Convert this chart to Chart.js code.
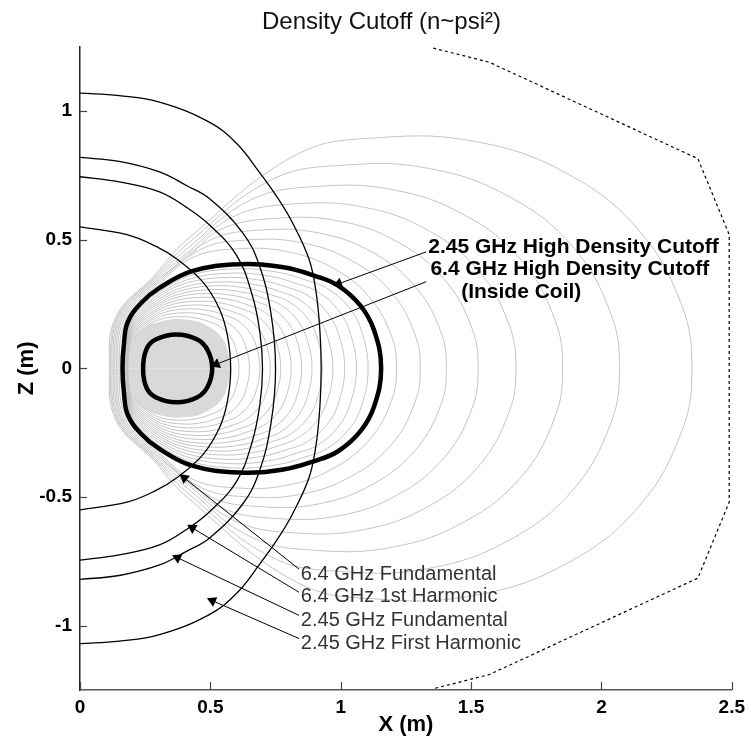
<!DOCTYPE html>
<html>
<head>
<meta charset="utf-8">
<script src="https://cdn.jsdelivr.net/npm/chart.js@4.4.1/dist/chart.umd.min.js"></script>
<style>
  html, body { margin: 0; padding: 0; background: #fff; }
  #wrap { width: 751px; height: 748px; }
</style>
</head>
<body>
<div id="wrap"><canvas id="cutoffChart" width="751" height="748"></canvas></div>
<script>
// axes
const xTicks = [0, 0.5, 1, 1.5, 2, 2.5];
const zTicks = [-1, -0.5, 0, 0.5, 1];

// flux surfaces inside the 2.45 GHz cutoff (upper half, inner edge round to outer midplane)
const innerFluxX = [
  [0.184, 0.193, 0.215, 0.245, 0.299, 0.376, 0.449, 0.501, 0.539, 0.578, 0.599, 0.610],
  [0.183, 0.192, 0.217, 0.250, 0.309, 0.394, 0.474, 0.530, 0.573, 0.615, 0.638, 0.650],
  [0.182, 0.192, 0.219, 0.255, 0.319, 0.411, 0.498, 0.559, 0.606, 0.651, 0.677, 0.690],
  [0.181, 0.192, 0.221, 0.260, 0.329, 0.429, 0.523, 0.589, 0.639, 0.688, 0.716, 0.730],
  [0.180, 0.192, 0.223, 0.264, 0.339, 0.446, 0.547, 0.618, 0.672, 0.725, 0.755, 0.770],
  [0.179, 0.192, 0.225, 0.269, 0.349, 0.464, 0.572, 0.648, 0.705, 0.762, 0.794, 0.810],
  [0.178, 0.191, 0.227, 0.274, 0.359, 0.481, 0.596, 0.677, 0.738, 0.799, 0.833, 0.850],
  [0.177, 0.191, 0.229, 0.279, 0.369, 0.499, 0.621, 0.707, 0.772, 0.836, 0.872, 0.890],
  [0.176, 0.191, 0.231, 0.284, 0.379, 0.516, 0.645, 0.736, 0.805, 0.873, 0.911, 0.930],
  [0.175, 0.191, 0.233, 0.289, 0.389, 0.534, 0.670, 0.766, 0.838, 0.910, 0.950, 0.970],
  [0.174, 0.191, 0.235, 0.294, 0.400, 0.553, 0.697, 0.799, 0.875, 0.951, 0.994, 1.015],
  [0.173, 0.191, 0.238, 0.300, 0.412, 0.573, 0.725, 0.832, 0.913, 0.993, 1.038, 1.060],
  [0.172, 0.191, 0.240, 0.305, 0.423, 0.593, 0.752, 0.865, 0.950, 1.034, 1.082, 1.105]
];
const innerFluxZ = [
  [0, 0.089, 0.127, 0.155, 0.188, 0.201, 0.195, 0.179, 0.161, 0.122, 0.072, 0],
  [0, 0.096, 0.136, 0.167, 0.202, 0.216, 0.210, 0.192, 0.173, 0.131, 0.077, 0],
  [0, 0.103, 0.146, 0.179, 0.216, 0.231, 0.224, 0.205, 0.185, 0.140, 0.083, 0],
  [0, 0.109, 0.155, 0.190, 0.230, 0.246, 0.239, 0.219, 0.197, 0.149, 0.088, 0],
  [0, 0.116, 0.164, 0.202, 0.244, 0.261, 0.253, 0.232, 0.209, 0.158, 0.093, 0],
  [0, 0.123, 0.174, 0.213, 0.258, 0.276, 0.268, 0.245, 0.221, 0.167, 0.099, 0],
  [0, 0.129, 0.183, 0.225, 0.272, 0.291, 0.282, 0.259, 0.233, 0.176, 0.104, 0],
  [0, 0.136, 0.193, 0.237, 0.285, 0.306, 0.297, 0.272, 0.245, 0.185, 0.110, 0],
  [0, 0.143, 0.202, 0.248, 0.299, 0.321, 0.311, 0.285, 0.257, 0.194, 0.115, 0],
  [0, 0.149, 0.212, 0.260, 0.313, 0.336, 0.326, 0.299, 0.269, 0.203, 0.120, 0],
  [0, 0.157, 0.222, 0.273, 0.329, 0.353, 0.342, 0.314, 0.283, 0.214, 0.126, 0],
  [0, 0.164, 0.233, 0.286, 0.345, 0.370, 0.359, 0.329, 0.297, 0.224, 0.132, 0],
  [0, 0.172, 0.244, 0.299, 0.361, 0.387, 0.375, 0.344, 0.310, 0.234, 0.139, 0]
];

// flux surfaces outside it: they hug the cutoff on the coil side and open out to the right
const outerFluxX = [
  [0.153, 0.174, 0.300, 0.430, 0.594, 0.789, 0.968, 1.110, 1.195, 1.214],
  [0.146, 0.168, 0.297, 0.462, 0.638, 0.848, 1.040, 1.193, 1.284, 1.305],
  [0.140, 0.162, 0.295, 0.497, 0.687, 0.913, 1.120, 1.284, 1.383, 1.405],
  [0.134, 0.157, 0.292, 0.418, 0.541, 0.747, 0.993, 1.217, 1.396, 1.503, 1.527],
  [0.128, 0.152, 0.289, 0.415, 0.592, 0.818, 1.087, 1.333, 1.528, 1.645, 1.672],
  [0.123, 0.147, 0.287, 0.412, 0.655, 0.905, 1.203, 1.475, 1.692, 1.821, 1.851],
  [0.118, 0.143, 0.285, 0.409, 0.732, 1.012, 1.345, 1.649, 1.891, 2.036, 2.069],
  [0.113, 0.138, 0.283, 0.406, 0.831, 1.148, 1.526, 1.871, 2.145, 2.309, 2.347]
];
const outerFluxZ = [
  [0, 0.184, 0.322, 0.430, 0.464, 0.455, 0.391, 0.277, 0.125, 0],
  [0, 0.188, 0.328, 0.462, 0.499, 0.489, 0.420, 0.298, 0.134, 0],
  [0, 0.190, 0.334, 0.497, 0.537, 0.527, 0.452, 0.320, 0.145, 0],
  [0, 0.193, 0.339, 0.437, 0.541, 0.583, 0.573, 0.492, 0.348, 0.157, 0],
  [0, 0.195, 0.344, 0.452, 0.592, 0.639, 0.627, 0.538, 0.381, 0.172, 0],
  [0, 0.198, 0.349, 0.466, 0.655, 0.707, 0.694, 0.596, 0.422, 0.191, 0],
  [0, 0.200, 0.353, 0.481, 0.732, 0.790, 0.776, 0.666, 0.472, 0.213, 0],
  [0, 0.202, 0.358, 0.496, 0.831, 0.897, 0.880, 0.756, 0.535, 0.242, 0]
];

// dense core around the coil (upper half)
const coreX = [0.182, 0.195, 0.240, 0.320, 0.400, 0.480, 0.550, 0.580];
const coreZ = [0, 0.090, 0.152, 0.185, 0.190, 0.170, 0.110, 0];

// high density cutoffs (upper half)
const cut245X = [0.163, 0.168, 0.183, 0.235, 0.305, 0.430, 0.610, 0.780, 0.900, 0.990, 1.075, 1.128, 1.155];
const cut245Z = [0, 0.090, 0.180, 0.255, 0.313, 0.378, 0.405, 0.393, 0.360, 0.322, 0.245, 0.148, 0];
const cut64X = [0.242, 0.255, 0.290, 0.370, 0.450, 0.490, 0.507];
const cut64Z = [0, 0.075, 0.112, 0.132, 0.112, 0.070, 0];

// cyclotron resonances (upper half, from the axis out to the midplane)
const res64FundX = [0, 0.18, 0.29, 0.37, 0.47, 0.534, 0.565, 0.578];
const res64FundZ = [0.55, 0.52, 0.475, 0.426, 0.337, 0.233, 0.13, 0];
const res64HarmX = [0, 0.15, 0.305, 0.41, 0.496, 0.60, 0.66, 0.69, 0.70];
const res64HarmZ = [0.745, 0.725, 0.686, 0.625, 0.558, 0.44, 0.287, 0.14, 0];
const res245FundX = [0, 0.15, 0.305, 0.41, 0.496, 0.622, 0.687, 0.733, 0.75];
const res245FundZ = [0.82, 0.805, 0.764, 0.71, 0.66, 0.53, 0.403, 0.21, 0];
const res245HarmX = [0, 0.15, 0.305, 0.496, 0.60, 0.687, 0.76, 0.813, 0.878, 0.905, 0.92, 0.925];
const res245HarmZ = [1.07, 1.06, 1.035, 0.957, 0.875, 0.764, 0.66, 0.57, 0.426, 0.30, 0.15, 0];

// vacuum vessel outline
const vesselX = [1.355, 1.57, 2.37, 2.49, 2.49, 2.37, 1.57, 1.355];
const vesselZ = [1.245, 1.19, 0.815, 0.52, -0.52, -0.815, -1.19, -1.245];

// labels and their arrows
const labelText = [
  '2.45 GHz High Density Cutoff',
  '6.4 GHz High Density Cutoff',
  '(Inside Coil)',
  '6.4 GHz Fundamental',
  '6.4 GHz 1st Harmonic',
  '2.45 GHz Fundamental',
  '2.45 GHz First Harmonic'
];
const labelX = [1.336, 1.344, 1.462, 0.847, 0.847, 0.847, 0.847];
const labelZ = [0.473, 0.384, 0.298, -0.802, -0.888, -0.981, -1.070];
const labelBold = [true, true, true, false, false, false, false];

const arrowTailX = [1.328, 1.328, 0.84, 0.84, 0.84, 0.84];
const arrowTailZ = [0.453, 0.337, -0.78, -0.87, -0.96, -1.05];
const arrowTipX = [0.992, 0.523, 0.40, 0.431, 0.374, 0.508];
const arrowTipZ = [0.329, 0.016, -0.426, -0.62, -0.736, -0.903];

function toPoints(xs, zs) {
  return xs.map((x, i) => ({ x: x, y: zs[i] }));
}

// upper half plus its mirror image, as one open curve
function mirrorOpen(xs, zs) {
  const upper = toPoints(xs, zs);
  const lower = upper.slice(0, -1).reverse().map(p => ({ x: p.x, y: -p.y }));
  return upper.concat(lower);
}

// closed curve; one extra point each side keeps the spline smooth where it closes
function mirrorClosed(xs, zs) {
  const upper = toPoints(xs, zs);
  const lower = upper.slice(1, -1).reverse().map(p => ({ x: p.x, y: -p.y }));
  const loop = upper.concat(lower);
  return [loop[loop.length - 1]].concat(loop, [loop[0], loop[1]]);
}

function loopSet(xs, zs, color, width) {
  const data = mirrorClosed(xs, zs);
  const n = data.length;
  return {
    data: data,
    showLine: true,
    borderColor: color,
    borderWidth: width,
    pointRadius: 0,
    tension: 0.4,
    segment: {
      borderColor: c => (c.p0DataIndex === 0 || c.p0DataIndex === n - 2) ? 'rgba(0,0,0,0)' : undefined
    }
  };
}

function curveSet(xs, zs) {
  return {
    data: mirrorOpen(xs, zs),
    showLine: true,
    borderColor: '#000',
    borderWidth: 1.3,
    pointRadius: 0,
    tension: 0.4
  };
}

function arrowAngle(ctx) {
  const chart = ctx.chart;
  const d = chart.data.datasets[ctx.datasetIndex].data;
  const sx = chart.scales.x, sy = chart.scales.y;
  const dx = sx.getPixelForValue(d[1].x) - sx.getPixelForValue(d[0].x);
  const dy = sy.getPixelForValue(d[1].y) - sy.getPixelForValue(d[0].y);
  return Math.atan2(dy, dx) * 180 / Math.PI + 90;
}

const datasets = [];

arrowTailX.forEach((tx, i) => {
  datasets.push({
    data: [{ x: tx, y: arrowTailZ[i] }, { x: arrowTipX[i], y: arrowTipZ[i] }],
    showLine: true,
    borderColor: '#000',
    borderWidth: 1,
    tension: 0,
    pointRadius: [0, 6],
    pointStyle: 'triangle',
    pointBackgroundColor: '#000',
    pointBorderWidth: 0,
    rotation: arrowAngle
  });
});

datasets.push(loopSet(cut245X, cut245Z, '#000', 4.5));
datasets.push(loopSet(cut64X, cut64Z, '#000', 4.5));

datasets.push(curveSet(res64FundX, res64FundZ));
datasets.push(curveSet(res64HarmX, res64HarmZ));
datasets.push(curveSet(res245FundX, res245FundZ));
datasets.push(curveSet(res245HarmX, res245HarmZ));

datasets.push({
  data: toPoints(vesselX, vesselZ),
  showLine: true,
  borderColor: '#000',
  borderWidth: 1.2,
  borderDash: [3, 3],
  pointRadius: 0,
  tension: 0
});

outerFluxX.forEach((xs, i) => {
  datasets.push(loopSet(xs, outerFluxZ[i], '#c4c4c4', 1));
});
innerFluxX.forEach((xs, i) => {
  datasets.push(loopSet(xs, innerFluxZ[i], '#c4c4c4', 1));
});

datasets.push({
  data: toPoints(coreX, coreZ),
  showLine: true, fill: 'origin', backgroundColor: '#d9d9d9',
  borderWidth: 0, pointRadius: 0, tension: 0.4
});
datasets.push({
  data: toPoints(coreX, coreZ.map(z => -z)),
  showLine: true, fill: 'origin', backgroundColor: '#d9d9d9',
  borderWidth: 0, pointRadius: 0, tension: 0.4
});

// inward tick marks and the text annotations
const annotate = {
  id: 'annotate',
  afterDatasetsDraw(chart) {
    const { ctx, chartArea, scales } = chart;
    const sx = scales.x, sy = scales.y;
    ctx.save();
    ctx.strokeStyle = '#444';
    ctx.lineWidth = 1.2;
    xTicks.forEach(v => {
      const px = Math.round(sx.getPixelForValue(v)) + 0.5;
      ctx.beginPath();
      ctx.moveTo(px, chartArea.bottom);
      ctx.lineTo(px, chartArea.bottom - 8);
      ctx.stroke();
    });
    zTicks.forEach(v => {
      const py = Math.round(sy.getPixelForValue(v)) + 0.5;
      ctx.beginPath();
      ctx.moveTo(chartArea.left, py);
      ctx.lineTo(chartArea.left + 7, py);
      ctx.stroke();
    });
    ctx.textAlign = 'left';
    ctx.textBaseline = 'middle';
    labelText.forEach((t, i) => {
      ctx.font = labelBold[i] ? 'bold 21px Arial, "Liberation Sans", sans-serif'
                              : '20px Arial, "Liberation Sans", sans-serif';
      ctx.fillStyle = labelBold[i] ? '#000' : '#333';
      ctx.fillText(t, sx.getPixelForValue(labelX[i]), sy.getPixelForValue(labelZ[i]));
    });
    ctx.restore();
  }
};

Chart.defaults.font.family = 'Arial, "Liberation Sans", sans-serif';
Chart.defaults.color = '#000';

new Chart(document.getElementById('cutoffChart'), {
  type: 'scatter',
  data: { datasets: datasets },
  options: {
    responsive: false,
    animation: false,
    layout: { padding: { top: 0, right: 16, bottom: 0, left: 28 } },
    plugins: {
      legend: { display: false },
      tooltip: { enabled: false },
      title: {
        display: true,
        text: 'Density Cutoff (n~psi²)',
        color: '#111',
        font: { size: 24, weight: 'normal' },
        padding: { top: 8, bottom: 10 }
      }
    },
    scales: {
      x: {
        type: 'linear',
        position: 'bottom',
        min: 0,
        max: 2.5,
        afterBuildTicks: s => { s.ticks = xTicks.map(v => ({ value: v })); },
        afterFit: s => { s.height = 58; },
        grid: { display: false, drawTicks: false },
        border: { display: true, color: '#555', width: 1.5 },
        ticks: {
          padding: 6,
          font: { size: 19, weight: 'bold' },
          color: '#000',
          callback: v => String(v)
        },
        title: {
          display: true,
          text: 'X (m)',
          font: { size: 22, weight: 'bold' },
          color: '#000',
          padding: { top: 0, bottom: 10 }
        }
      },
      y: {
        type: 'linear',
        position: 'left',
        min: -1.25,
        max: 1.25,
        afterBuildTicks: s => { s.ticks = zTicks.map(v => ({ value: v })); },
        afterFit: s => { s.width = 52; },
        grid: { display: false, drawTicks: false },
        border: { display: true, color: '#222', width: 1.5 },
        ticks: {
          padding: 8,
          font: { size: 19, weight: 'bold' },
          color: '#000',
          callback: v => String(v)
        },
        title: {
          display: true,
          text: 'Z (m)',
          font: { size: 22, weight: 'bold' },
          color: '#000',
          padding: { top: -14, bottom: 0 }
        }
      }
    }
  },
  plugins: [annotate]
});
</script>
</body>
</html>
